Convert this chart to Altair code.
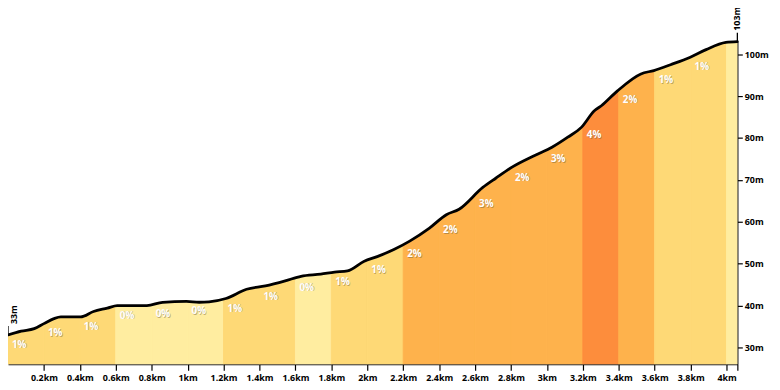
import altair as alt
import numpy as np
import pandas as pd

# elevation profile (km, m)
prof_km = [0.0, 0.074, 0.146, 0.20, 0.256, 0.294, 0.404, 0.476, 0.553, 0.608, 0.773, 0.861,
           0.993, 1.064, 1.119, 1.213, 1.328, 1.433, 1.543, 1.631, 1.741, 1.818, 1.89, 1.983,
           2.055, 2.148, 2.236, 2.346, 2.44, 2.511, 2.643, 2.715, 2.808, 2.935, 3.028, 3.116,
           3.193, 3.264, 3.303, 3.391, 3.523, 3.595, 3.688, 3.798, 3.886, 3.996, 4.06]
prof_m = [33.0, 33.9, 34.5, 35.7, 36.9, 37.3, 37.3, 38.6, 39.4, 40.0, 40.0, 40.8,
          41.0, 40.8, 40.9, 41.7, 43.9, 44.7, 45.9, 47.0, 47.5, 48.0, 48.3, 50.6,
          51.7, 53.4, 55.4, 58.5, 61.7, 63.0, 68.2, 70.4, 73.1, 75.9, 77.8, 80.2,
          82.6, 86.5, 87.7, 91.2, 95.3, 96.1, 97.5, 99.3, 101.1, 102.8, 103.0]

# grade segments
seg_start = [0.0, 0.2, 0.4, 0.6, 0.8, 1.0, 1.2, 1.4, 1.6, 1.8, 2.0, 2.2, 2.4, 2.6, 2.8,
             3.0, 3.2, 3.4, 3.6, 3.8, 4.0]
seg_end = seg_start[1:] + [4.06]
seg_grade = [1, 1, 1, 0, 0, 0, 1, 1, 0, 1, 1, 2, 2, 3, 2, 3, 4, 2, 1, 1, 0]
seg_label = ["1%", "1%", "1%", "0%", "0%", "0%", "1%", "1%", "0%", "1%", "1%", "2%", "2%",
             "3%", "2%", "3%", "4%", "2%", "1%", "1%", ""]
grade_classes = [0, 1, 2, 3, 4]
grade_colors = ["#ffeda0", "#fed976", "#feb24c", "#feb24c", "#fd8d3c"]

x_ticks = [0.2, 0.4, 0.6, 0.8, 1.0, 1.2, 1.4, 1.6, 1.8, 2.0, 2.2, 2.4, 2.6, 2.8, 3.0,
           3.2, 3.4, 3.6, 3.8, 4.0, 4.06]
y_ticks = [30, 40, 50, 60, 70, 80, 90, 100]

Y_MIN, Y_MAX = 26, 103
X_MAX = 4.06
FONT = "Open Sans"

# area pieces per segment
rows = []
for i, (s, e) in enumerate(zip(seg_start, seg_end)):
    xs = [s] + [k for k in prof_km if s < k < e] + [e]
    for k in xs:
        rows.append({"seg": i, "grade": seg_grade[i], "km": k,
                     "elev": float(np.interp(k, prof_km, prof_m))})
area_df = pd.DataFrame(rows)

line_df = pd.DataFrame({"km": prof_km, "elev": prof_m})

lab_df = pd.DataFrame({
    "km": seg_start,
    "elev": [float(np.interp(s, prof_km, prof_m)) for s in seg_start],
    "label": seg_label,
})
lab_df = lab_df[lab_df["label"] != ""]

end_df = pd.DataFrame({
    "km": [prof_km[0], prof_km[-1]],
    "elev": [prof_m[0], prof_m[-1]],
    "label": ["%dm" % round(prof_m[0]), "%dm" % round(prof_m[-1])],
})
start_df = end_df.iloc[[0]]
finish_df = end_df.iloc[[1]]

xscale = alt.Scale(domain=[0, X_MAX], nice=False, zero=False)
yscale = alt.Scale(domain=[Y_MIN, Y_MAX], nice=False, zero=False)

x_axis = alt.Axis(values=x_ticks, title=None, grid=False, domainColor="black",
                  tickColor="black", tickSize=6, tickWidth=1.2, domainWidth=1.2,
                  labelFont=FONT, labelFontWeight="bold", labelFontSize=9,
                  labelColor="black", labelPadding=3, labelOverlap=False,
                  labelFlush=False,
                  labelExpr="datum.value > 4.05 ? '' : format(datum.value, '~g') + 'km'")
y_axis = alt.Axis(values=y_ticks, title=None, grid=False, orient="right",
                  domainColor="black", tickColor="black", tickSize=5, tickWidth=1.2,
                  domainWidth=1.2, labelFont=FONT, labelFontWeight="bold",
                  labelFontSize=9, labelColor="black", labelPadding=2, labelOverlap=False,
                  labelExpr="datum.value + 'm'")

X = alt.X("km:Q", scale=xscale, axis=x_axis)
Y = alt.Y("elev:Q", scale=yscale, axis=y_axis, stack=None)

gscale = alt.Scale(domain=grade_classes, range=grade_colors)
area = alt.Chart(area_df).mark_area(clip=True, interpolate="monotone", strokeWidth=1).encode(
    x=X, y=Y,
    y2=alt.datum(Y_MIN),
    color=alt.Color("grade:O", scale=gscale, legend=None),
    stroke=alt.Stroke("grade:O", scale=gscale, legend=None),
    detail="seg:N",
)

line = alt.Chart(line_df).mark_line(color="black", strokeWidth=2.8,
                                    interpolate="monotone", strokeCap="round").encode(
    x=X, y=Y,
)

shadow = alt.Chart(lab_df).mark_text(
    align="left", baseline="middle", dx=4.6, dy=10.6, font=FONT, fontWeight="bold",
    fontSize=10, color="#6b5a3a", opacity=0.45,
).encode(x=X, y=Y, text="label:N")

labels = alt.Chart(lab_df).mark_text(
    align="left", baseline="middle", dx=4, dy=10, font=FONT, fontWeight="bold",
    fontSize=10, color="white",
).encode(x=X, y=Y, text="label:N")

end_rule = alt.Chart(end_df).mark_rule(color="black", strokeWidth=1.3, y2Offset=-9).encode(
    x=X, y=Y,
    y2="elev:Q",
)

start_text = alt.Chart(start_df).mark_text(
    angle=270, align="left", baseline="middle", dx=11, dy=6, font=FONT, fontWeight="bold",
    fontSize=9, color="black",
).encode(x=X, y=Y, text="label:N")

finish_text = alt.Chart(finish_df).mark_text(
    angle=270, align="left", baseline="middle", dx=11, font=FONT, fontWeight="bold",
    fontSize=9, color="black",
).encode(x=X, y=Y, text="label:N")

chart = alt.layer(area, line, shadow, labels, end_rule, start_text, finish_text).properties(
    width=737, height=326,
    autosize=alt.AutoSizeParams(type="none"),
    padding={"left": 0, "top": 32, "right": 35, "bottom": 24},
    background="white",
).configure_view(strokeWidth=0, stroke="transparent")

chart.save("out.html", embed_options={"renderer": "svg", "actions": False})
